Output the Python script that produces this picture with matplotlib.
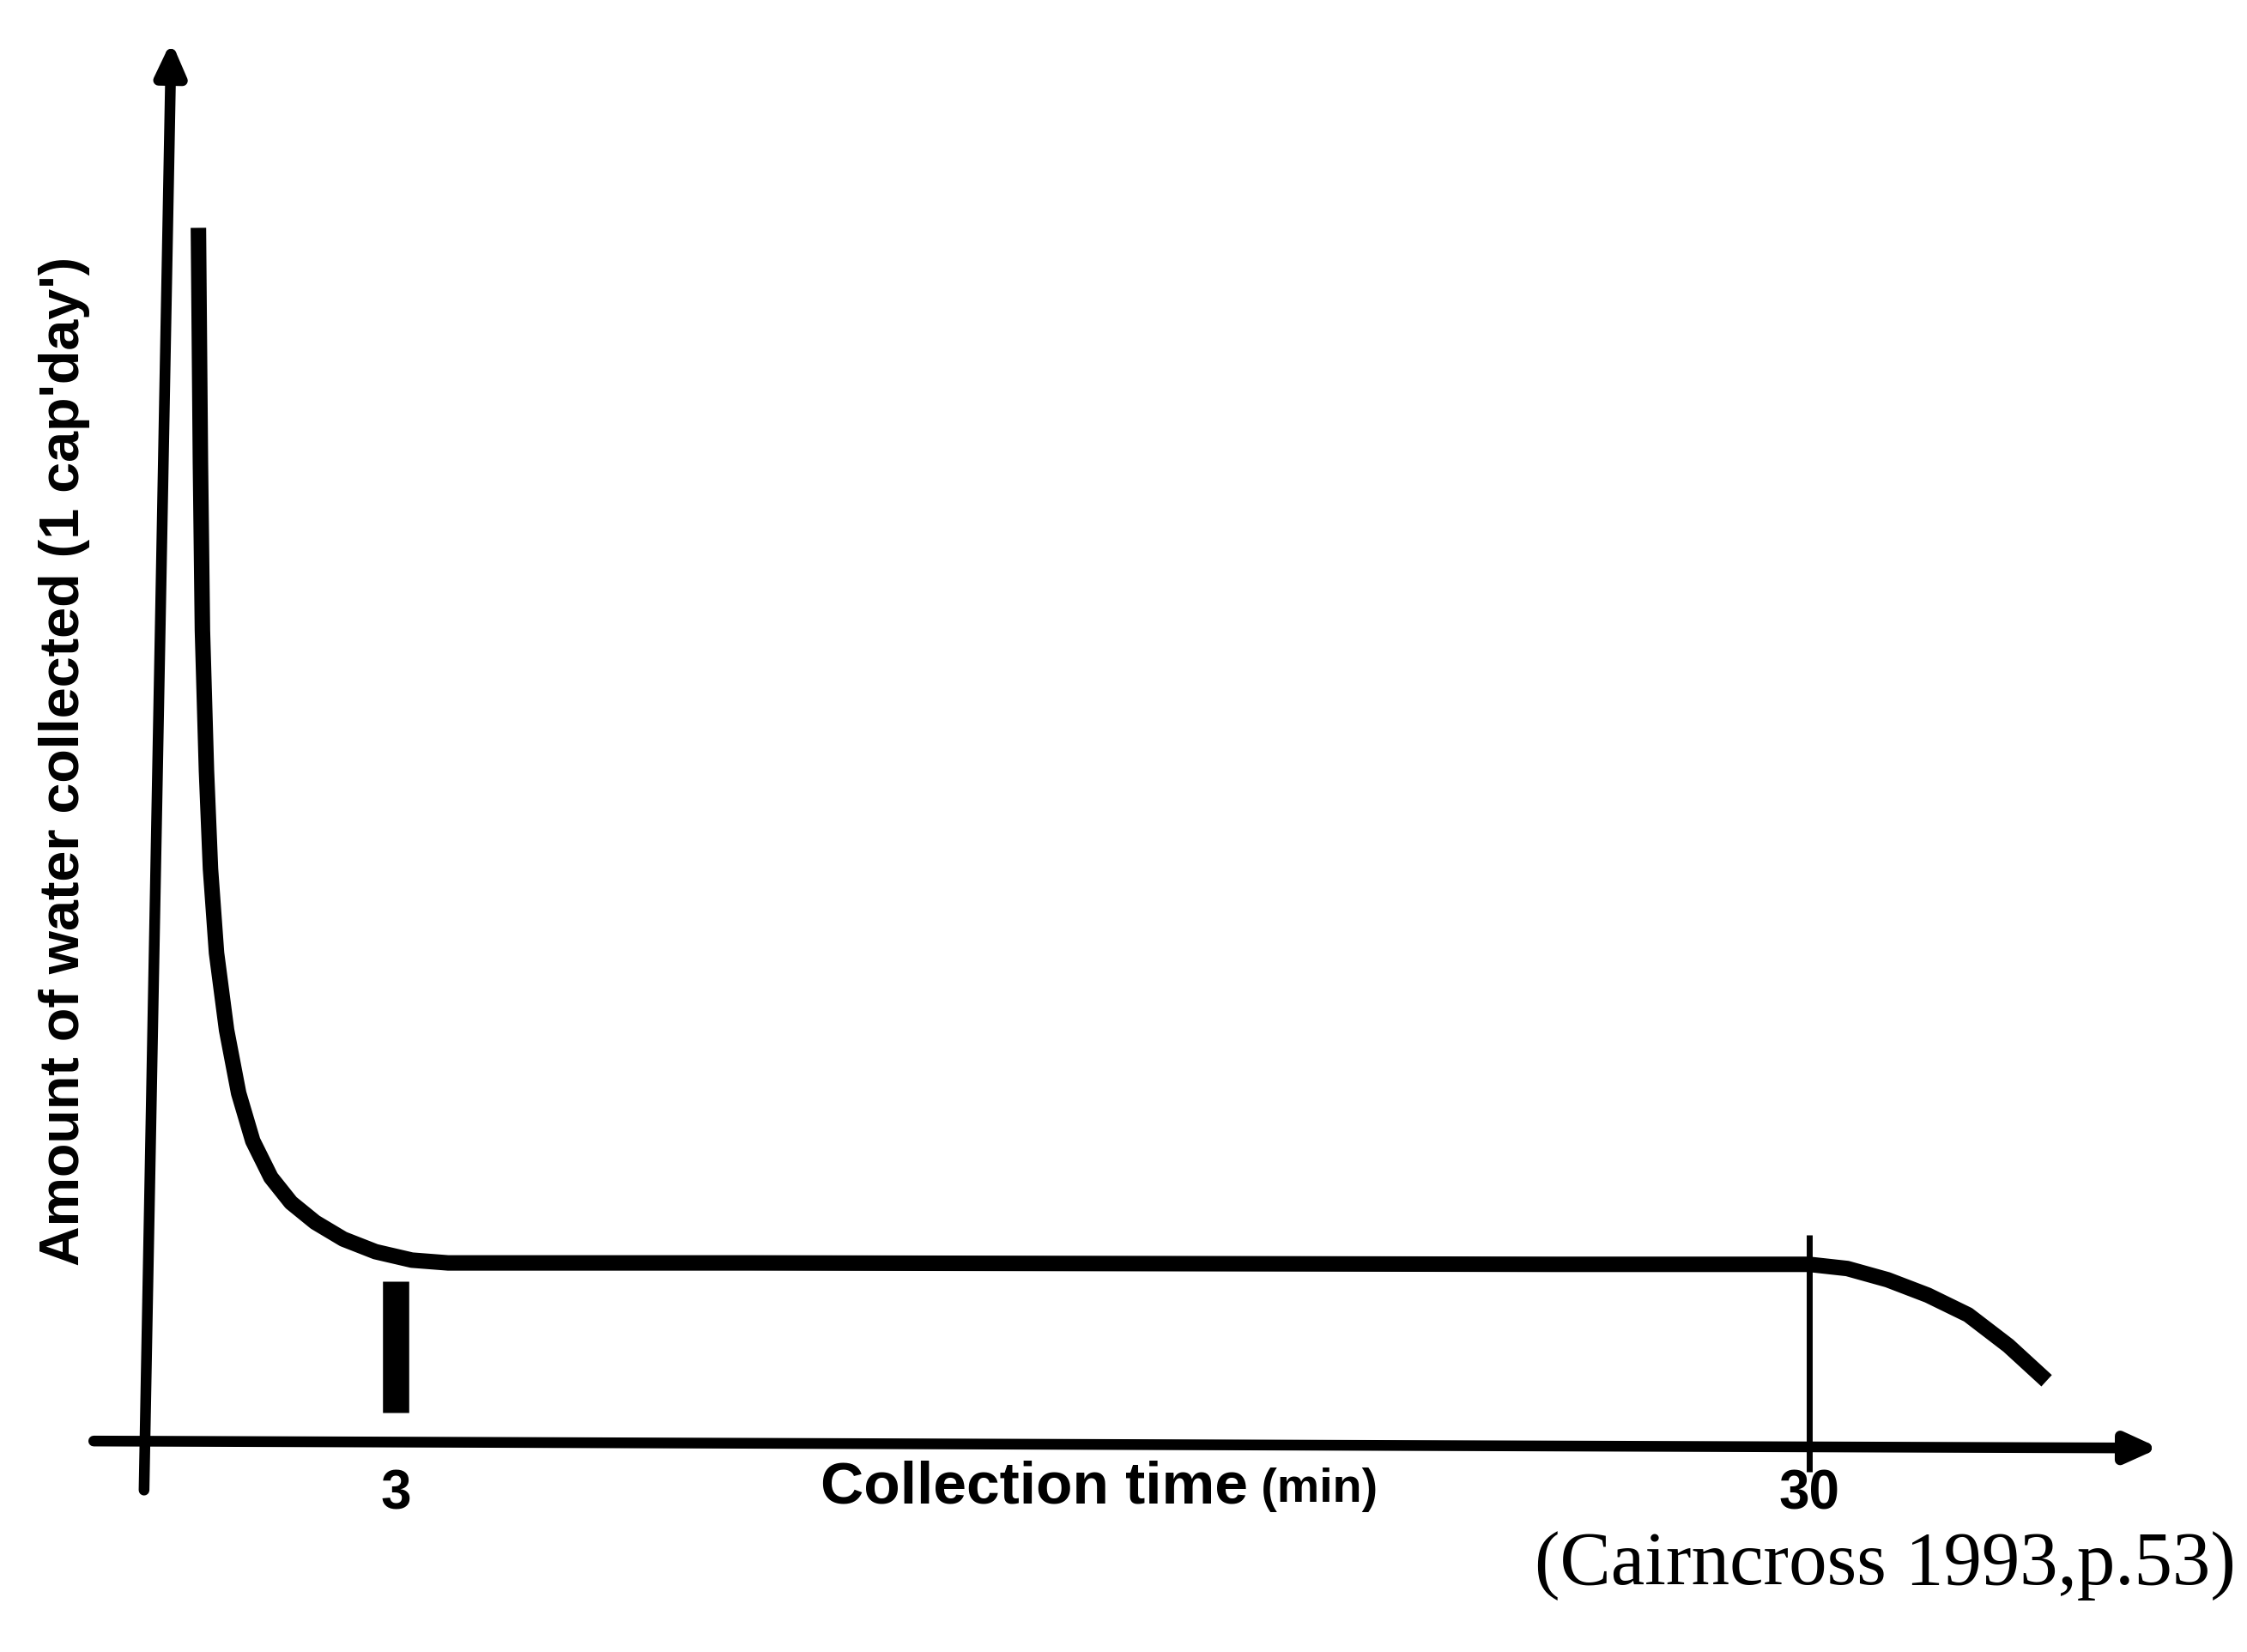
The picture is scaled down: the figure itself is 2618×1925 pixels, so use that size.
import matplotlib.pyplot as plt
import numpy as np

# schematic chart: units are arbitrary, y axis sits at x=0 and x axis at y=0
curve_x = [2.6, 2.7, 2.8, 3.0, 3.2, 3.5, 4.0, 4.6, 5.3, 6.2, 7.2, 8.4, 9.8, 11.4, 13.2, 15.0,
           30.0, 50.0, 70.0, 82.6, 84.5, 86.5, 88.5, 90.5, 92.5, 94.4]
curve_y = [86.7, 70.0, 58.0, 48.0, 41.0, 35.0, 29.5, 25.0, 21.6, 19.0, 17.2, 15.8, 14.6, 13.7, 13.1, 12.9,
           12.9, 12.85, 12.8, 12.8, 12.5, 11.7, 10.6, 9.2, 7.0, 4.5]

tick_pos = [12.4, 82.6]
tick_labels = ["3", "30"]

ylabel = "Amount of water collected (1 cap'day')"
xlabel = "Collection time"
xunit = "(min)"
source = "(Cairncross 1993,p.53)"

plt.rcParams['font.family'] = ['Liberation Sans', 'DejaVu Sans']

fig = plt.figure(figsize=(26.18, 19.25), dpi=100)
ax = fig.add_axes([0.065, 0.126, 0.896, 0.849])
ax.set_xlim(0, 100)
ax.set_ylim(0, 100)
ax.axis('off')

# axes drawn as arrows (the y axis leans a little, as in the scan)
arrow = dict(arrowstyle="-|>,head_length=2.2,head_width=1.0", lw=9, color="black",
             shrinkA=0, shrinkB=0)
ax.annotate("", xy=(1.25, 100), xytext=(-0.1, -3.3), arrowprops=arrow, annotation_clip=False)
ax.annotate("", xy=(100, -0.3), xytext=(-2.6, 0.2), arrowprops=arrow, annotation_clip=False)

ax.plot(curve_x, curve_y, color="black", lw=13, solid_capstyle="butt",
        solid_joinstyle="round", clip_on=False)

# thick marker at 3 min, thin marker at 30 min
ax.plot([tick_pos[0], tick_pos[0]], [2.2, 11.6], color="black", lw=22,
        solid_capstyle="butt", clip_on=False)
ax.plot([tick_pos[1], tick_pos[1]], [-2.0, 14.9], color="black", lw=5,
        solid_capstyle="butt", clip_on=False)

for p, lab in zip(tick_pos, tick_labels):
    ax.text(p, -3.6, lab, ha="center", va="center", fontsize=46, fontweight="bold", clip_on=False)

t = ax.text(33.5, -3.1, xlabel, ha="left", va="center", fontsize=50, fontweight="bold")
ax.annotate(" " + xunit, xy=(1, 0.05), xycoords=t, ha="left", va="bottom", fontsize=40,
            fontweight="bold")

ax.text(-4.05, 48.7, ylabel, rotation=90, ha="center", va="center", fontsize=46.5, fontweight="bold")

fig.text(0.995, 0.052, source, ha="right", va="center", fontsize=64,
         family=["Liberation Serif", "DejaVu Serif"])

fig.savefig("out.png", dpi=100, facecolor="white")
